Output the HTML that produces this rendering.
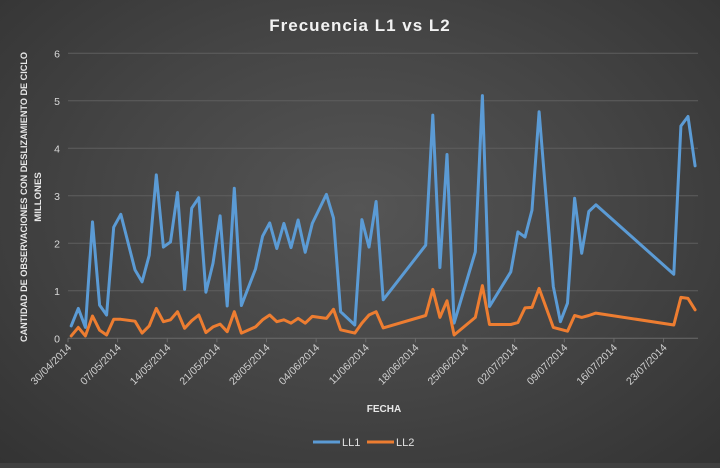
<!DOCTYPE html>
<html><head><meta charset="utf-8"><style>
html,body{margin:0;padding:0;}
body{width:720px;height:463px;overflow:hidden;background:#404040;font-family:"Liberation Sans",sans-serif;}
#chart{position:absolute;left:0;top:0;width:720px;height:463px;background:radial-gradient(ellipse at 50% 45%,#555555 0%,#454545 50%,#333333 100%);}
</style></head><body>
<div id="chart">
<svg id="svg" width="720" height="463" xmlns="http://www.w3.org/2000/svg">
<text x="360" y="31" text-anchor="middle" fill="#f2f2f2" font-size="17" font-weight="bold" letter-spacing="1">Frecuencia  L1 vs L2</text>
<g id="grid"></g><g id="yt"></g><g id="xt"></g><g id="series"></g>
<text transform="translate(27,197) rotate(-90)" text-anchor="middle" fill="#e8e8e8" font-size="9.6" font-weight="bold" textLength="290" lengthAdjust="spacingAndGlyphs">CANTIDAD DE OBSERVACIONES CON DESLIZAMIENTO DE CICLO</text>
<text transform="translate(41,197) rotate(-90)" text-anchor="middle" fill="#e8e8e8" font-size="9.6" font-weight="bold">MILLONES</text>
<text x="384" y="412" text-anchor="middle" fill="#e8e8e8" font-size="10" font-weight="bold">FECHA</text>
<g>
<line x1="313" y1="442" x2="340" y2="442" stroke="#5b9bd5" stroke-width="3"/>
<text x="342" y="446" fill="#e0e0e0" font-size="11">LL1</text>
<line x1="367" y1="442" x2="394" y2="442" stroke="#ed7d31" stroke-width="3"/>
<text x="396" y="446" fill="#e0e0e0" font-size="11">LL2</text>
</g>
</svg></div>
<script>
const days=[0,1,2,3,4,5,6,7,9,10,11,12,13,14,15,16,17,18,19,20,21,22,23,24,26,27,28,29,30,31,32,33,34,36,37,38,40,41,42,43,44,50,51,52,53,54,57,58,59,62,63,64,65,66,68,69,70,71,72,73,74,85,86,87,88];
const ll1=[0.26,0.63,0.23,2.45,0.7,0.49,2.34,2.61,1.44,1.19,1.75,3.44,1.92,2.03,3.07,1.03,2.74,2.96,0.97,1.58,2.58,0.68,3.16,0.69,1.46,2.15,2.43,1.89,2.42,1.91,2.49,1.81,2.42,3.03,2.53,0.56,0.28,2.5,1.92,2.88,0.81,1.96,4.70,1.49,3.87,0.32,1.82,5.11,0.67,1.40,2.24,2.13,2.70,4.77,1.09,0.35,0.74,2.95,1.79,2.67,2.81,1.35,4.47,4.67,3.63];
const ll2=[0.05,0.23,0.05,0.47,0.17,0.07,0.40,0.40,0.36,0.11,0.26,0.63,0.35,0.39,0.56,0.21,0.37,0.49,0.12,0.24,0.30,0.14,0.56,0.11,0.24,0.39,0.49,0.35,0.39,0.32,0.42,0.32,0.46,0.42,0.61,0.18,0.11,0.32,0.49,0.56,0.22,0.48,1.03,0.44,0.79,0.07,0.44,1.11,0.29,0.29,0.33,0.64,0.65,1.05,0.23,0.19,0.15,0.48,0.44,0.48,0.53,0.28,0.86,0.84,0.60];
const yTicks=[0,1,2,3,4,5,6];
const xTickDays=[0,7,14,21,28,35,42,49,56,63,70,77,84];
const xTickLabels=["30/04/2014","07/05/2014","14/05/2014","21/05/2014","28/05/2014","04/06/2014","11/06/2014","18/06/2014","25/06/2014","02/07/2014","09/07/2014","16/07/2014","23/07/2014"];
const NS="http://www.w3.org/2000/svg";
const X0=68,PX=7.09,Y0=338.3,PY=47.5;
const xs=d=>X0+d*PX, xp=d=>X0+(d+0.45)*PX, ys=v=>Y0-v*PY;
function mk(t,a,p){const e=document.createElementNS(NS,t);for(const k in a)e.setAttribute(k,a[k]);p.appendChild(e);return e;}
const grid=document.getElementById('grid'),yt=document.getElementById('yt'),xt=document.getElementById('xt'),ser=document.getElementById('series');
yTicks.forEach(v=>{
 const l=mk('line',{x1:X0,x2:698,y1:ys(v),y2:ys(v),stroke:v===0?'#6a6a6a':'#5e5e5e','stroke-width':1},grid);
 
 
 const t=mk('text',{x:60,y:ys(v)+4,'text-anchor':'end',fill:'#d9d9d9','font-size':10.5},yt);
 t.textContent=v;
 
 
});
xTickDays.forEach((d,i)=>{
 const x=xs(d);
 const tk=mk('line',{x1:x,x2:x,y1:Y0,y2:Y0+4,stroke:'#6a6a6a'},xt);
 
 
 const t=mk('text',{transform:`translate(${x+4},${Y0+10}) rotate(-45)`,'text-anchor':'end',fill:'#d0d0d0','font-size':10.5},xt);
 t.textContent=xTickLabels[i];
 
 
});
function line(vals,col,name){
 const p=mk('polyline',{points:days.map((d,i)=>xp(d).toFixed(1)+','+ys(vals[i]).toFixed(1)).join(' '),fill:'none',stroke:col,'stroke-width':3,'stroke-linejoin':'round','stroke-linecap':'round'},ser);
 
 
}
line(ll1,'#5b9bd5','series-ll1');
line(ll2,'#ed7d31','series-ll2');
</script>
</body></html>
